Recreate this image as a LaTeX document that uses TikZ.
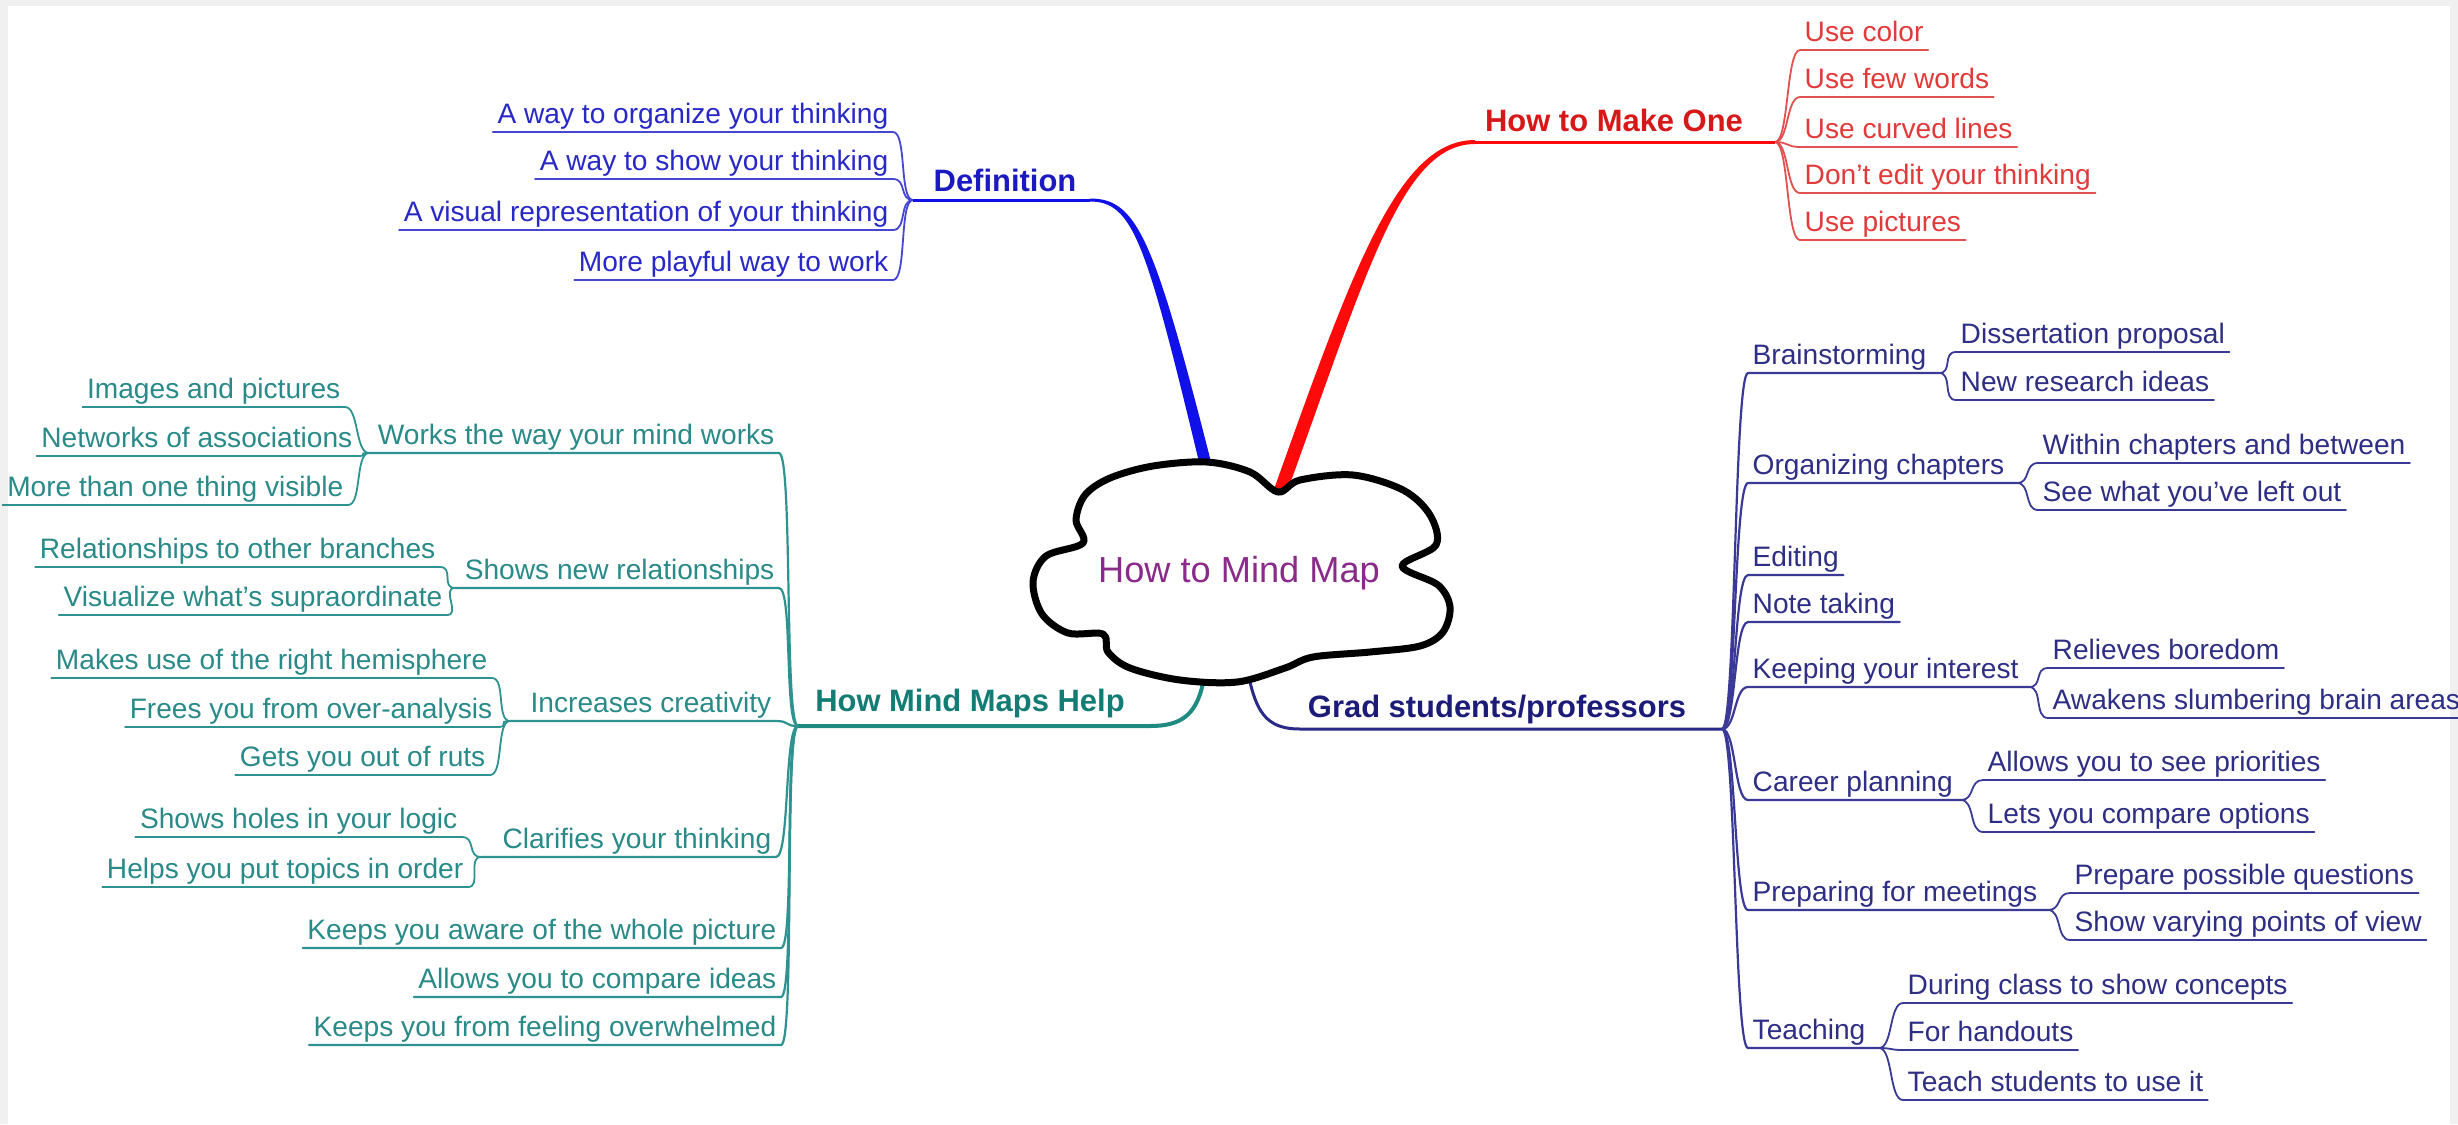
\documentclass[tikz,border=0pt]{standalone}
\usepackage{fontspec}
\setmainfont{Liberation Sans}
\usetikzlibrary{calc}
\definecolor{bg}{HTML}{F0F0F0}
\definecolor{defT}{HTML}{2828C8}
\definecolor{defM}{HTML}{1A1AC0}
\definecolor{defL}{HTML}{4646D2}
\definecolor{defB}{HTML}{1010E8}
\definecolor{mkT}{HTML}{E23A3A}
\definecolor{mkM}{HTML}{D81818}
\definecolor{mkL}{HTML}{E25050}
\definecolor{mkB}{HTML}{FF0A0A}
\definecolor{hpT}{HTML}{2A8A88}
\definecolor{hpM}{HTML}{137C74}
\definecolor{hpL}{HTML}{2E9290}
\definecolor{hpB}{HTML}{1E8A80}
\definecolor{gdT}{HTML}{2E2E84}
\definecolor{gdM}{HTML}{1C1C78}
\definecolor{gdL}{HTML}{3A3A96}
\definecolor{gdB}{HTML}{2A2A88}
\definecolor{ctr}{HTML}{8A2A8A}
\newcommand\lffont{\fontsize{8pt}{9.6pt}\selectfont}
\newcommand\mnfont{\fontsize{8.8pt}{10.5pt}\selectfont\bfseries}
\newcommand\ctfont{\fontsize{10.3pt}{12pt}\selectfont}
\begin{document}
\begin{tikzpicture}[x=0.1mm,y=-0.1mm,
  lf/.style={inner xsep=0.4mm, inner ysep=0pt, text depth=0.8mm, font=\lffont},
  lfl/.style={lf, anchor=south east},
  lfr/.style={lf, anchor=south west},
  mainlbl/.style={font=\mnfont, inner sep=0pt},
  leafline/.style={line width=0.18mm, line cap=round},
  subline/.style={line width=0.22mm, line cap=round},
  conn/.style={to path={.. controls +(14,0) and +(-14,0) .. (\tikztotarget)}}]
\useasboundingbox (0,0) rectangle (2458,1124);
\fill[bg] (0,0) rectangle (2458,1124);
\fill[white] (8,6) rectangle (2450,1124);

% cloud attachment points
\coordinate (cTop) at (1205,462);
\coordinate (cRed) at (1280,492);
\coordinate (cTeal) at (1203,683);
\coordinate (cNavy) at (1250,682);

% ---------------- Definition ----------------
\coordinate (defP) at (913,200);
\coordinate (defR) at (1090,200);
\node[mainlbl, text=defM] (def) at (1005,180) {Definition};
\foreach \n/\y/\t in {d1/132/A way to organize your thinking, d2/179/A way to show your thinking, d3/230/A visual representation of your thinking, d4/280/More playful way to work}{
  \node[lfl, text=defT] (\n) at (893,\y) {\t};
  \draw[defL, leafline] (\n.south west) -- (\n.south east) to[conn] (defP);
}
\draw[defB, line width=0.3mm] (defP) -- (defR);
\fill[defB] ($(defR)+(0,-1.5)$) .. controls ($(defR)+(47,-1.5)$) and ($(cTop)+(-51,-224)$) .. ($(cTop)+(6,0)$)
  -- ($(cTop)+(-6,0)$) .. controls ($(cTop)+(-59,-220)$) and ($(defR)+(43,1.5)$) .. ($(defR)+(0,1.5)$) -- cycle;

% ---------------- How to Make One ----------------
\coordinate (mkLft) at (1475,142);
\coordinate (mkP) at (1775,142);
\node[mainlbl, text=mkM] (make) at (1614,120) {How to Make One};
\foreach \n/\y/\t in {m1/50/Use color, m2/97/Use few words, m3/147/Use curved lines, m4/193/Don't edit your thinking, m5/240/Use pictures}{
  \node[lfr, text=mkT] (\n) at (1800,\y) {\t};
  \draw[mkL, leafline] (mkP) to[conn] (\n.south west) -- (\n.south east);
}
\draw[mkB, line width=0.3mm] (mkLft) -- (mkP);
\fill[mkB] ($(cRed)+(-7,0)$) .. controls ($(cRed)+(73,-224)$) and ($(mkLft)+(-77,-2)$) .. ($(mkLft)+(0,-2)$)
  -- ($(mkLft)+(0,2)$) .. controls ($(mkLft)+(-73,2)$) and ($(cRed)+(87,-220)$) .. ($(cRed)+(7,0)$) -- cycle;

% ---------------- How Mind Maps Help ----------------
\coordinate (helpP) at (798,726);
\coordinate (helpR) at (1150,726);
\node[mainlbl, text=hpM] (help) at (970,703) {How Mind Maps Help};
\draw[hpB, line width=0.4mm] (cTeal) .. controls ($(cTeal)+(-7,33)$) and ($(helpR)+(30,0)$) .. (helpR) -- (helpP);

% Works the way your mind works
\coordinate (worksP) at (369,453);
\node[lfl, text=hpT] (works) at (779,453) {Works the way your mind works};
\draw[hpL, subline] (worksP) -- (works.south east) to[conn] (helpP);
\foreach \n/\x/\y/\t in {w1/345/407/Images and pictures, w2/357/456/Networks of associations, w3/348/505/More than one thing visible}{
  \node[lfl, text=hpT] (\n) at (\x,\y) {\t};
  \draw[hpL, leafline] (\n.south west) -- (\n.south east) to[conn] (worksP);
}
% Shows new relationships
\coordinate (showsP) at (455,588);
\node[lfl, text=hpT] (shows) at (779,588) {Shows new relationships};
\draw[hpL, subline] (showsP) -- (shows.south east) to[conn] (helpP);
\foreach \n/\x/\y/\t in {s1/440/567/Relationships to other branches, s2/447/615/Visualize what's supraordinate}{
  \node[lfl, text=hpT] (\n) at (\x,\y) {\t};
  \draw[hpL, leafline] (\n.south west) -- (\n.south east) to[conn] (showsP);
}
% Increases creativity
\coordinate (incrP) at (510,721);
\node[lfl, text=hpT] (incr) at (776,721) {Increases creativity};
\draw[hpL, subline] (incrP) -- (incr.south east) to[conn] (helpP);
\foreach \n/\x/\y/\t in {i1/492/678/Makes use of the right hemisphere, i2/497/727/Frees you from over-analysis, i3/490/775/Gets you out of ruts}{
  \node[lfl, text=hpT] (\n) at (\x,\y) {\t};
  \draw[hpL, leafline] (\n.south west) -- (\n.south east) to[conn] (incrP);
}
% Clarifies your thinking
\coordinate (clarP) at (481,857);
\node[lfl, text=hpT] (clar) at (776,857) {Clarifies your thinking};
\draw[hpL, subline] (clarP) -- (clar.south east) to[conn] (helpP);
\foreach \n/\x/\y/\t in {c1/462/837/Shows holes in your logic, c2/468/887/Helps you put topics in order}{
  \node[lfl, text=hpT] (\n) at (\x,\y) {\t};
  \draw[hpL, leafline] (\n.south west) -- (\n.south east) to[conn] (clarP);
}
% direct leaves
\foreach \n/\y/\t in {k1/948/Keeps you aware of the whole picture, k2/997/Allows you to compare ideas, k3/1045/Keeps you from feeling overwhelmed}{
  \node[lfl, text=hpT] (\n) at (781,\y) {\t};
  \draw[hpL, subline] (\n.south west) -- (\n.south east) to[conn] (helpP);
}

% ---------------- Grad students/professors ----------------
\coordinate (gradL) at (1300,729);
\coordinate (gradP) at (1722,729);
\node[mainlbl, text=gdM] (grad) at (1497,709) {Grad students/professors};
\draw[gdB, line width=0.3mm] (cNavy) .. controls ($(cNavy)+(8,34)$) and ($(gradL)+(-30,0)$) .. (gradL) -- (gradP);

% children with sub-items
\foreach \n/\y/\bx/\t in {g1/373/1939/Brainstorming, g2/483/2017/Organizing chapters, g5/687/2029/Keeping your interest, g6/800/1961/Career planning, g7/910/2048/Preparing for meetings, g8/1048/1879/Teaching}{
  \node[lfr, text=gdT] (\n) at (1748,\y) {\t};
  \coordinate (\n P) at (\bx,\y);
  \draw[gdL, subline] (gradP) to[conn] (\n.south west) -- (\n P);
}
\foreach \n/\y/\t in {g3/575/Editing, g4/622/Note taking}{
  \node[lfr, text=gdT] (\n) at (1748,\y) {\t};
  \draw[gdL, subline] (gradP) to[conn] (\n.south west) -- (\n.south east);
}
\foreach \n/\p/\x/\y/\t in {
  g1a/g1P/1956/352/Dissertation proposal, g1b/g1P/1956/400/New research ideas,
  g2a/g2P/2038/463/Within chapters and between, g2b/g2P/2038/510/See what you've left out,
  g5a/g5P/2048/668/Relieves boredom, g5b/g5P/2048/718/Awakens slumbering brain areas,
  g6a/g6P/1983/780/Allows you to see priorities, g6b/g6P/1983/832/Lets you compare options,
  g7a/g7P/2070/893/Prepare possible questions, g7b/g7P/2070/940/Show varying points of view,
  g8a/g8P/1903/1003/During class to show concepts, g8b/g8P/1903/1050/For handouts, g8c/g8P/1903/1100/Teach students to use it}{
  \node[lfr, text=gdT] (\n) at (\x,\y) {\t};
  \draw[gdL, leafline] (\p) to[conn] (\n.south west) -- (\n.south east);
}

% ---------------- Cloud ----------------
\draw[line width=0.7mm, fill=white, line join=round] plot[smooth cycle, tension=0.55] coordinates {
 (1083,543) (1076,520) (1085,495) (1110,478) (1153,466) (1207,462) (1250,472) (1278,492)
 (1300,480) (1353,475) (1403,490) (1430,515) (1436,545) (1402,566)
 (1438,585) (1450,607) (1443,632) (1420,646) (1370,652) (1313,657)
 (1285,668) (1237,682) (1180,680) (1130,668) (1108,652) (1103,634)
 (1068,633) (1042,614) (1033,582) (1046,556)};
\node[font=\ctfont, text=ctr, inner sep=0pt] (center) at (1239,573) {How to Mind Map};
\end{tikzpicture}
\end{document}
